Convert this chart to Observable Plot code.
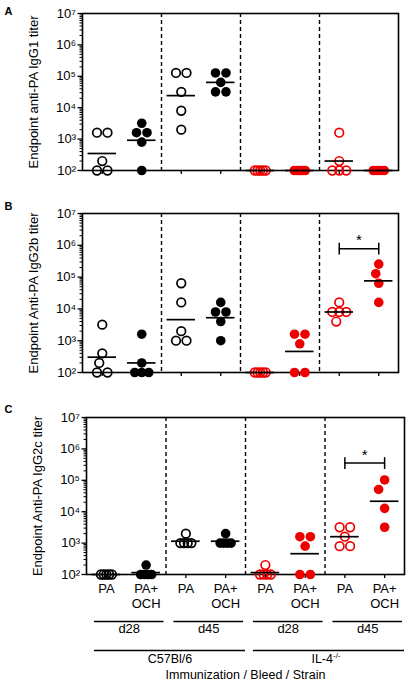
<!DOCTYPE html>
<html><head><meta charset="utf-8">
<script src="https://cdn.jsdelivr.net/npm/d3@7"></script>
<script src="https://cdn.jsdelivr.net/npm/@observablehq/plot@0.6"></script>
<style>
body{margin:0;background:#fff;}
#fig{position:relative;width:409px;height:687px;font-family:"Liberation Sans",Arial,sans-serif;}
#fig svg{position:absolute;left:0;overflow:visible;}
</style></head><body><div id="fig"></div>
<script>
// ---- data ----
const immunizations = ["PA","PA+\nOCH","PA","PA+\nOCH","PA","PA+\nOCH","PA","PA+\nOCH"];
const bleeds = ["d28","d45","d28","d45"];
const strains = ["C57Bl/6","IL-4"];
const strainSup = ["","-/-"];
const filledGroup = [false,true,false,true,false,true,false,true];
const groupStrain = [0,0,0,0,1,1,1,1];
const panelLetters = ["A","B","C"];
const yTitles = ["Endpoint anti-PA IgG1 titer","Endpoint Anti-PA IgG2b titer","Endpoint Anti-PA IgG2c titer"];
const igg1 = [[1600,1600,200,100,100],[3200,1600,1600,800,100],[128000,128000,32000,8000,2000],[128000,128000,64000,32000,32000],[100,100,100,100,100],[100,100,100,100,100],[1600,200,100,100,100],[100,100,100,100]];
const igg2b = [[3200,400,200,100,100],[1600,200,100,100,100],[64000,16000,2000,1000,1000],[16000,8000,8000,4000,1000],[100,100,100,100,100],[1600,1600,800,100,100],[16000,8000,8000,8000,4000],[256000,128000,64000,16000]];
const igg2c = [[100,100,100,100,100],[200,100,100,100,100],[2000,1000,1000,1000,1000],[2000,1000,1000,1000,1000],[200,100,100,100,100],[1600,1600,800,100,100],[3200,3200,1600,800,800],[102400,51200,12800,3200]];
const sigBrackets = [null, {from:6,to:7,y:785000,label:"*"}, {from:6,to:7,y:354000,label:"*"}];
const yMajor = [1e2,1e3,1e4,1e5,1e6,1e7];
const axisTitle = "Immunization / Bleed / Strain";

// ---- styles / layout ----
const RED = "#ee0000", BLACK = "#000";
const colors = [BLACK, RED];
const sup = {"2":"²","3":"³","4":"⁴","5":"⁵","6":"⁶","7":"⁷"};
const yMinor = [];
for (let e = 2; e < 7; e++) for (let m = 2; m <= 9; m++) yMinor.push(m * 10 ** e);

const panels = [
  {data: igg1, top: 0, height: 200, mt: 13, mb: 30, ml: 82, mr: 11, letterDy: -6},
  {data: igg2b, top: 200, height: 200, mt: 13, mb: 28, ml: 82, mr: 11, letterDy: -11},
  {data: igg2c, top: 400, height: 287, mt: 17, mb: 113, ml: 86, mr: 5, letterDy: -12}
];

const vbar = {draw(ctx, size) { const h = Math.sqrt(size) / 1.2; ctx.moveTo(0, -h); ctx.lineTo(0, h); }};

function layoutPoints(groups, pxDec, pxUnit) {
  const pts = [];
  groups.forEach((vals, g) => {
    const rows = d3.groups(vals, v => v).sort((a, b) => b[0] - a[0]);
    const placed = [];
    for (const [v, arr] of rows) {
      const k = arr.length;
      const py = Math.log10(v) * pxDec;
      let offs;
      if (k > 1) {
        const s = k === 2 ? 10.5 : k === 3 ? 7 : 11 / (k - 1);
        offs = arr.map((_, i) => (i - (k - 1) / 2) * s);
      } else {
        let o = 0;
        for (const c of [0, -3, 3, -6, 6, -9, 9]) {
          if (placed.every(p => Math.hypot(p.ox - c, p.py - py) >= 10)) { o = c; break; }
        }
        offs = [o];
      }
      for (const o of offs) {
        placed.push({ox: o, py});
        pts.push({g, value: v, x: g + o / pxUnit, filled: filledGroup[g], strain: groupStrain[g]});
      }
    }
  });
  return pts;
}

const fig = document.getElementById("fig");
panels.forEach((P, k) => {
  const n = P.data.length;
  const plotH = P.height - P.mt - P.mb;
  const pxDec = plotH / 5;
  const pxUnit = (409 - P.ml - P.mr) / n;
  const pts = layoutPoints(P.data, pxDec, pxUnit);
  const means = P.data.map((vals, g) => ({g, gm: 10 ** d3.mean(vals, v => Math.log10(v)), strain: groupStrain[g]}));
  const separators = d3.range(1, n / 2).map(i => 2 * i - 0.5);
  const marks = [
    Plot.ruleX(separators, {strokeDasharray: "4,3", strokeWidth: 1.4}),
    Plot.axisY(yMinor, {tickSize: 2.5, tickFormat: () => "", label: null, strokeWidth: 1}),
    Plot.axisY(yMajor, {tickSize: 4.5, tickPadding: 2, fontSize: 13, label: null, strokeWidth: 1.3,
      tickFormat: d => "10" + sup[String(Math.round(Math.log10(d)))]}),
    Plot.axisX(d3.range(n), {tickSize: 4, tickPadding: 3, fontSize: 13, lineHeight: 1.2, label: null, strokeWidth: 1.3,
      tickFormat: i => k === 2 ? immunizations[i] : ""}),
    Plot.frame({strokeWidth: 1.6}),
    Plot.dot(pts.filter(d => !d.filled), {x: "x", y: "value", r: 4.3, stroke: d => colors[d.strain], strokeWidth: 1.7, fill: "none"}),
    Plot.dot(pts.filter(d => d.filled), {x: "x", y: "value", r: 4.8, fill: d => colors[d.strain], stroke: "none"}),
    Plot.ruleY(means, {y: "gm", x1: d => d.g - 0.36, x2: d => d.g + 0.36, stroke: BLACK, strokeWidth: 1.7}),
    Plot.text([yTitles[k]], {frameAnchor: "left", rotate: -90, textAnchor: "middle", dx: -49, fontSize: 13}),
    Plot.text([panelLetters[k]], {frameAnchor: "top-left", dx: P.ml === 82 ? -78 : -82, dy: P.letterDy, fontWeight: "bold", fontSize: 11})
  ];
  const b = sigBrackets[k];
  if (b) {
    marks.push(
      Plot.ruleY([b], {y: "y", x1: "from", x2: "to", strokeWidth: 1.5}),
      Plot.dot([b.from, b.to], {x: d => d, y: () => b.y, symbol: vbar, r: 4, stroke: BLACK, strokeWidth: 1.5}),
      Plot.text([b], {x: d => (d.from + d.to) / 2, y: "y", text: "label", dy: -8, fontSize: 15})
    );
  }
  if (k === 2) {
    const bleedSpans = bleeds.map((t, i) => ({t, x1: 2 * i - 0.3, x2: 2 * i + 1.45}));
    const strainSpans = strains.map((t, i) => ({t, s: strainSup[i], x1: 4 * i - 0.3, x2: 4 * i + 3.5}));
    marks.push(
      Plot.ruleY(bleedSpans, {y: () => 1e2, x1: "x1", x2: "x2", dy: 47, strokeWidth: 1.3}),
      Plot.text(bleedSpans, {x: d => (d.x1 + d.x2) / 2, frameAnchor: "bottom", text: "t", dy: 58, fontSize: 13}),
      Plot.ruleY(strainSpans, {y: () => 1e2, x1: "x1", x2: "x2", dy: 76, strokeWidth: 1.3}),
      Plot.text(strainSpans.filter(d => !d.s), {x: d => (d.x1 + d.x2) / 2, frameAnchor: "bottom", text: "t", dy: 88, fontSize: 12.5}),
      Plot.text(strainSpans.filter(d => d.s), {x: d => (d.x1 + d.x2) / 2, frameAnchor: "bottom", text: "t", dy: 88, dx: 4, textAnchor: "end", fontSize: 12.5}),
      Plot.text(strainSpans.filter(d => d.s), {x: d => (d.x1 + d.x2) / 2, frameAnchor: "bottom", text: "s", dy: 83, dx: 4, textAnchor: "start", fontSize: 8}),
      Plot.text([axisTitle], {frameAnchor: "bottom", dy: 104, fontSize: 12.5})
    );
  }
  const svg = Plot.plot({
    width: 409, height: P.height,
    marginTop: P.mt, marginBottom: P.mb, marginLeft: P.ml, marginRight: P.mr,
    style: {fontFamily: "'Liberation Sans', Arial, sans-serif", fontSize: "12px", background: "transparent", overflow: "visible"},
    x: {type: "linear", domain: [-0.5, n - 0.5], axis: null},
    y: {type: "log", domain: [1e2, 1e7], axis: null},
    marks
  });
  svg.style.top = P.top + "px";
  fig.appendChild(svg);
});
</script></body></html>
